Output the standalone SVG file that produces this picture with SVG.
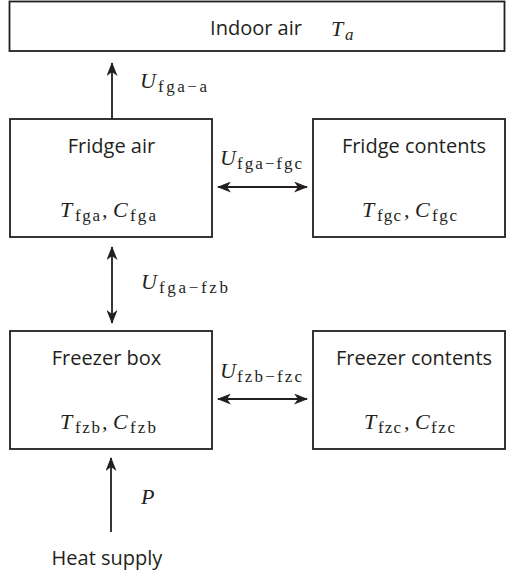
<svg xmlns="http://www.w3.org/2000/svg" width="506" height="576" viewBox="0 0 506 576">
<style>
.box{fill:#fff;stroke:#231f20;stroke-width:1.8}
.lbl{font-family:"Open Sans","Liberation Sans",sans-serif;font-size:20px;fill:#231f20;text-anchor:middle}
.m{font-family:"Liberation Serif",serif;font-size:22px;fill:#231f20;font-style:italic}
.sub{font-family:"Liberation Serif",serif;font-size:17px;fill:#231f20}
.con{stroke:#231f20;stroke-width:1.8;fill:none}
</style>
<defs>
<marker id="ah" viewBox="0 0 14 11" refX="13" refY="5.5" markerWidth="14" markerHeight="11" markerUnits="userSpaceOnUse" orient="auto-start-reverse">
<path d="M0,0 L14,5.5 L0,11 L4,5.5 z" fill="#231f20"/>
</marker>
</defs>
<g id="indoor-air">
<rect class="box" x="9.5" y="1.5" width="495" height="49.5"/>
<text class="lbl" x="256" y="35">Indoor air</text>
<text class="m" x="331" y="36">T</text>
<text class="sub" x="345" y="40" font-style="italic">a</text>
</g>
<g id="fridge-air">
<rect class="box" x="10" y="119" width="202" height="118"/>
<text class="lbl" x="111.5" y="153">Fridge air</text>
<text class="m" x="60" y="217">T</text>
<text class="sub" x="75" y="221" textLength="25" lengthAdjust="spacing">fga</text>
<text class="m" x="102" y="217" font-style="normal">,</text>
<text class="m" x="113" y="217">C</text>
<text class="sub" x="130" y="221" textLength="26" lengthAdjust="spacing">fga</text>
</g>
<g id="fridge-contents">
<rect class="box" x="313" y="119" width="192" height="118"/>
<text class="lbl" x="414" y="153">Fridge contents</text>
<text class="m" x="362" y="217">T</text>
<text class="sub" x="377" y="221" textLength="24" lengthAdjust="spacing">fgc</text>
<text class="m" x="404" y="217" font-style="normal">,</text>
<text class="m" x="415" y="217">C</text>
<text class="sub" x="432" y="221" textLength="25" lengthAdjust="spacing">fgc</text>
</g>
<g id="freezer-box">
<rect class="box" x="10" y="331" width="202" height="118"/>
<text class="lbl" x="106.5" y="365">Freezer box</text>
<text class="m" x="60" y="429">T</text>
<text class="sub" x="75" y="433" textLength="25" lengthAdjust="spacing">fzb</text>
<text class="m" x="102" y="429" font-style="normal">,</text>
<text class="m" x="113" y="429">C</text>
<text class="sub" x="130" y="433" textLength="26" lengthAdjust="spacing">fzb</text>
</g>
<g id="freezer-contents">
<rect class="box" x="313" y="331" width="192" height="118"/>
<text class="lbl" x="414" y="365">Freezer contents</text>
<text class="m" x="364" y="429">T</text>
<text class="sub" x="378" y="433" textLength="23" lengthAdjust="spacing">fzc</text>
<text class="m" x="404" y="429" font-style="normal">,</text>
<text class="m" x="415" y="429">C</text>
<text class="sub" x="431" y="433" textLength="24" lengthAdjust="spacing">fzc</text>
</g>
<g id="heat-supply">
<text class="lbl" x="107" y="565">Heat supply</text>
</g>
<g id="connectors">
<line class="con" x1="112" y1="119" x2="112" y2="63" marker-end="url(#ah)"/>
<line class="con" x1="218" y1="187" x2="307" y2="187" marker-start="url(#ah)" marker-end="url(#ah)"/>
<line class="con" x1="112" y1="247" x2="112" y2="323" marker-start="url(#ah)" marker-end="url(#ah)"/>
<line class="con" x1="218" y1="399" x2="307" y2="399" marker-start="url(#ah)" marker-end="url(#ah)"/>
<line class="con" x1="111" y1="532" x2="111" y2="458" marker-end="url(#ah)"/>
<text class="m" x="140" y="88">U</text>
<text class="sub" x="158" y="92" textLength="49" lengthAdjust="spacing">fga−a</text>
<text class="m" x="220" y="165">U</text>
<text class="sub" x="237" y="169" textLength="65" lengthAdjust="spacing">fga−fgc</text>
<text class="m" x="141" y="289">U</text>
<text class="sub" x="159" y="293" textLength="69" lengthAdjust="spacing">fga−fzb</text>
<text class="m" x="220" y="378">U</text>
<text class="sub" x="237" y="382" textLength="65" lengthAdjust="spacing">fzb−fzc</text>
<text class="m" x="141" y="504">P</text>
</g>
</svg>
